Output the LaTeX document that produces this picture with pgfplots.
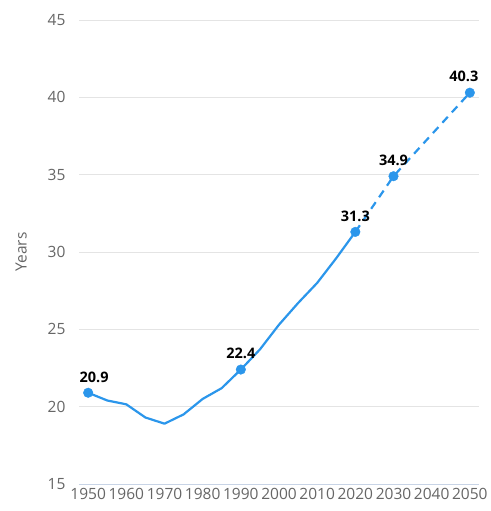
\documentclass[border=0pt]{standalone}
\usepackage{pgfplots}
\pgfplotsset{compat=1.18}
\usepackage{fontspec}
\setmainfont{Open Sans}
\definecolor{lineblue}{RGB}{43,150,235}
\definecolor{gridgray}{RGB}{228,228,228}
\definecolor{axisblue}{RGB}{200,212,230}
\definecolor{ticktext}{RGB}{102,102,102}
\begin{document}
\begin{tikzpicture}
\begin{axis}[
  scale only axis,
  width=400pt, height=464pt,
  xmin=1947.6, xmax=2052.4,
  ymin=15, ymax=45,
  xtick={1950,1960,1970,1980,1990,2000,2010,2020,2030,2040,2050},
  ytick={15,20,25,30,35,40,45},
  /pgf/number format/assume math mode=true,
  /pgf/number format/1000 sep={},
  tick label style={font=\fontsize{15.5}{17}\selectfont, text=ticktext},
  yticklabel style={xshift=-10pt},
  xticklabel style={yshift=-1pt},
  major tick length=0pt,
  axis line style={draw=none},
  ymajorgrids,
  grid style={gridgray, line width=0.9pt},
  ylabel={Years},
  ylabel style={font=\fontsize{15.5}{17}\selectfont, text=ticktext, yshift=14pt},
  clip=false,
]
\draw[axisblue, line width=0.9pt] (axis cs:1947.6,15) -- (axis cs:2052.4,15);
\addplot[lineblue, line width=2.2pt, line join=round] coordinates {
(1950,20.9) (1955,20.4) (1960,20.15) (1965,19.3) (1970,18.9) (1975,19.5) (1980,20.5) (1985,21.2) (1990,22.4) (1995,23.7) (2000,25.3) (2005,26.7) (2010,28.0) (2015,29.6) (2020,31.3)
};
\addplot[lineblue, line width=2.2pt, dash pattern=on 8pt off 6pt] coordinates {
(2020,31.3) (2030,34.9) (2050,40.3)
};
\addplot[only marks, mark=*, mark size=4.8pt, color=lineblue,
  nodes near coords, point meta=explicit symbolic,
  every node near coord/.style={font=\bfseries\fontsize{14.5}{16}\selectfont, text=black, anchor=south, yshift=7pt}]
  coordinates {(1990,22.4)[22.4] (2020,31.3)[31.3] (2030,34.9)[34.9]};
\addplot[only marks, mark=*, mark size=4.8pt, color=lineblue,
  nodes near coords, point meta=explicit symbolic,
  every node near coord/.style={font=\bfseries\fontsize{14.5}{16}\selectfont, text=black, anchor=south, yshift=7pt, xshift=6pt}]
  coordinates {(1950,20.9)[20.9]};
\addplot[only marks, mark=*, mark size=4.8pt, color=lineblue,
  nodes near coords, point meta=explicit symbolic,
  every node near coord/.style={font=\bfseries\fontsize{14.5}{16}\selectfont, text=black, anchor=south, yshift=7pt, xshift=-6pt}]
  coordinates {(2050,40.3)[40.3]};
\end{axis}
\path ([xshift=-79pt,yshift=-27pt]current axis.south west) rectangle ([xshift=11pt,yshift=20pt]current axis.north east);
\end{tikzpicture}
\end{document}
